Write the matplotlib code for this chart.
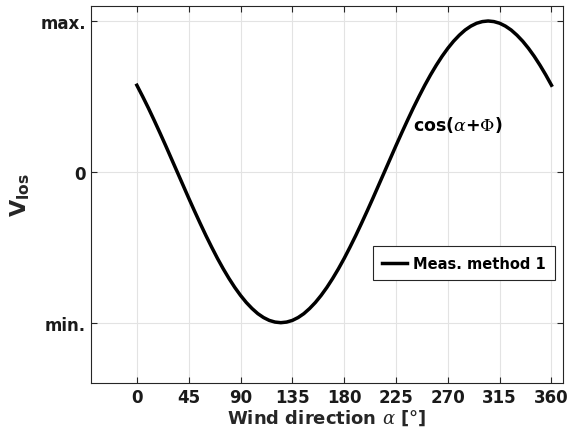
import numpy as np
import matplotlib
import matplotlib.pyplot as plt
matplotlib.use('Agg')

# wind direction in degrees, sampled every 5 deg
direction = np.arange(0, 361, 5)
# normalised line-of-sight velocity
v_los = [0.574, 0.500, 0.423, 0.342, 0.259, 0.174, 0.087, 0.0, -0.087, -0.174,
         -0.259, -0.342, -0.423, -0.500, -0.574, -0.643, -0.707, -0.766, -0.819, -0.866,
         -0.906, -0.940, -0.966, -0.985, -0.996, -1.0, -0.996, -0.985, -0.966, -0.940,
         -0.906, -0.866, -0.819, -0.766, -0.707, -0.643, -0.574, -0.500, -0.423, -0.342,
         -0.259, -0.174, -0.087, 0.0, 0.087, 0.174, 0.259, 0.342, 0.423, 0.500,
         0.574, 0.643, 0.707, 0.766, 0.819, 0.866, 0.906, 0.940, 0.966, 0.985,
         0.996, 1.0, 0.996, 0.985, 0.966, 0.940, 0.906, 0.866, 0.819, 0.766,
         0.707, 0.643, 0.574]

x_ticks = [0, 45, 90, 135, 180, 225, 270, 315, 360]
y_ticks = [-1, 0, 1]
y_tick_labels = ['min.', '0', 'max.']

plt.rcParams['font.family'] = 'DejaVu Sans'
plt.rcParams['font.weight'] = 'bold'
plt.rcParams['mathtext.fontset'] = 'custom'
plt.rcParams['mathtext.rm'] = 'DejaVu Serif:normal'
plt.rcParams['mathtext.it'] = 'DejaVu Serif:italic:normal'
plt.rcParams['mathtext.bf'] = 'DejaVu Sans:bold'

fig = plt.figure(figsize=(5.71, 4.31), dpi=100)
ax = fig.add_axes([0.159, 0.109, 0.827, 0.875])

ax.plot(direction, v_los, color='black', linewidth=2.5, label='Meas. method 1')

ax.set_xlim(-40, 370)
ax.set_ylim(-1.4, 1.1)
ax.set_xticks(x_ticks)
ax.set_yticks(y_ticks)
ax.set_yticklabels(y_tick_labels)
ax.tick_params(direction='in', top=True, right=True, labelsize=12,
               labelcolor='#1a1a1a', color='#262626', length=4)
for lbl in ax.get_xticklabels() + ax.get_yticklabels():
    lbl.set_fontweight('bold')
ax.grid(True, color='#e3e3e3', linewidth=0.8)
ax.set_axisbelow(True)
for s in ax.spines.values():
    s.set_color('#262626')
    s.set_linewidth(0.8)

ax.set_xlabel(r'Wind direction $\alpha$ [°]', fontsize=13, fontweight='bold',
              color='#262626', labelpad=1)
ax.set_ylabel(r'$\mathbf{V_{los}}$', fontsize=16, color='#262626', labelpad=6)

ax.text(240, 0.32, r'cos($\alpha$+$\Phi$)', fontsize=12.5, fontweight='bold',
        color='black', ha='left', va='center')

leg = ax.legend(loc='center right', prop={'size': 10.5, 'weight': 'bold'},
                fancybox=False, framealpha=1, edgecolor='#262626',
                handlelength=1.7, handletextpad=0.4, borderpad=0.65,
                borderaxespad=0, bbox_to_anchor=(0.983, 0.317),
                bbox_transform=ax.transAxes)
leg.get_frame().set_linewidth(0.8)

fig.savefig('out.png', dpi=100)
